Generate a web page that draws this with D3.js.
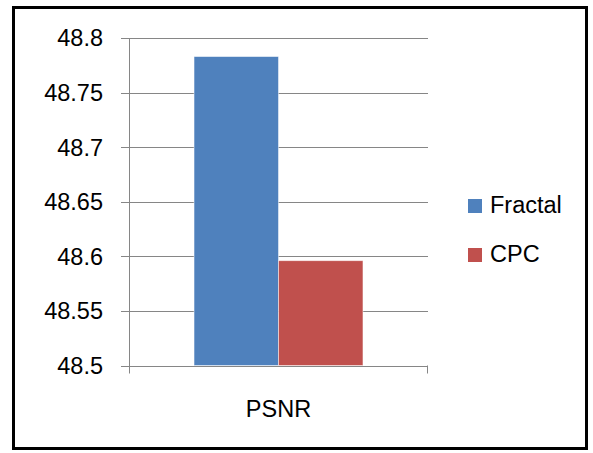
<!DOCTYPE html>
<html>
<head>
<meta charset="utf-8">
<script src="https://cdn.jsdelivr.net/npm/d3@7"></script>
<style>
  html, body { margin: 0; padding: 0; background: #fff; }
  svg { display: block; }
  text { font-family: "Liberation Sans", Arial, sans-serif; fill: #000; }
</style>
</head>
<body>
<svg id="chart" width="593" height="453"></svg>
<script>
// PSNR comparison data
const categories = ["PSNR"];
const seriesNames = ["Fractal", "CPC"];
const fractalValues = [48.783];
const cpcValues = [48.596];
const yTicks = [48.5, 48.55, 48.6, 48.65, 48.7, 48.75, 48.8];
const seriesColors = ["#4F81BD", "#C0504D"];

const svg = d3.select("#chart");

// outer frame
svg.append("rect")
  .attr("x", 13.5).attr("y", 7.5)
  .attr("width", 573).attr("height", 441)
  .attr("fill", "#fff").attr("stroke", "#000").attr("stroke-width", 3);

const plot = { left: 129, right: 428, top: 38, bottom: 365.5 };

const y = d3.scaleLinear().domain([48.5, 48.8]).range([plot.bottom, plot.top]);
const x0 = d3.scaleBand().domain(categories).range([plot.left, plot.right]).paddingInner(0).paddingOuter(0.385);
const x1 = d3.scaleBand().domain(seriesNames).range([0, x0.bandwidth()]);

const gridColor = "#868686";

// horizontal gridlines
svg.append("g")
  .selectAll("line")
  .data(yTicks)
  .join("line")
  .attr("x1", plot.left - 8).attr("x2", plot.right)
  .attr("y1", d => Math.round(y(d)) + 0.5).attr("y2", d => Math.round(y(d)) + 0.5)
  .attr("stroke", gridColor).attr("stroke-width", 1);

// y tick labels
svg.append("g")
  .selectAll("text")
  .data(yTicks)
  .join("text")
  .attr("x", plot.left - 26)
  .attr("y", d => y(d))
  .attr("dy", "0.36em")
  .attr("text-anchor", "end")
  .style("font-size", "23.5px")
  .text(d => d3.format("")(+d.toFixed(2)));

// bars
const data = categories.map((c, i) => ({ cat: c, values: [fractalValues[i], cpcValues[i]] }));
const groups = svg.append("g").selectAll("g")
  .data(data).join("g")
  .attr("transform", d => `translate(${x0(d.cat)},0)`);
groups.selectAll("rect")
  .data(d => d.values.map((v, j) => ({ name: seriesNames[j], value: v, color: seriesColors[j] })))
  .join("rect")
  .attr("x", d => x1(d.name))
  .attr("width", x1.bandwidth())
  .attr("y", d => y(d.value))
  .attr("height", d => plot.bottom - y(d.value))
  .attr("fill", d => d.color)
  .attr("stroke", "#fff").attr("stroke-opacity", 0.6).attr("stroke-width", 0.8);

// axes lines
svg.append("line")
  .attr("x1", plot.left + 0.5).attr("x2", plot.left + 0.5)
  .attr("y1", plot.top).attr("y2", plot.bottom + 8)
  .attr("stroke", gridColor);
svg.append("line")
  .attr("x1", plot.right - 0.5).attr("x2", plot.right - 0.5)
  .attr("y1", plot.bottom).attr("y2", plot.bottom + 8)
  .attr("stroke", gridColor);
svg.append("line")
  .attr("x1", plot.left).attr("x2", plot.right)
  .attr("y1", Math.round(plot.bottom) + 0.5).attr("y2", Math.round(plot.bottom) + 0.5)
  .attr("stroke", gridColor);

// category label
svg.append("g").selectAll("text")
  .data(categories).join("text")
  .attr("x", d => x0(d) + x0.bandwidth() / 2)
  .attr("y", 417)
  .attr("text-anchor", "middle")
  .style("font-size", "23.5px")
  .text(d => d);

// legend
const legend = svg.append("g").selectAll("g")
  .data(seriesNames).join("g")
  .attr("transform", (d, i) => `translate(468,${199 + i * 49})`);
legend.append("rect")
  .attr("width", 14).attr("height", 14)
  .attr("fill", (d, i) => seriesColors[i]);
legend.append("text")
  .attr("x", 22).attr("y", 14)
  .style("font-size", "23.5px")
  .text(d => d);
</script>
</body>
</html>
